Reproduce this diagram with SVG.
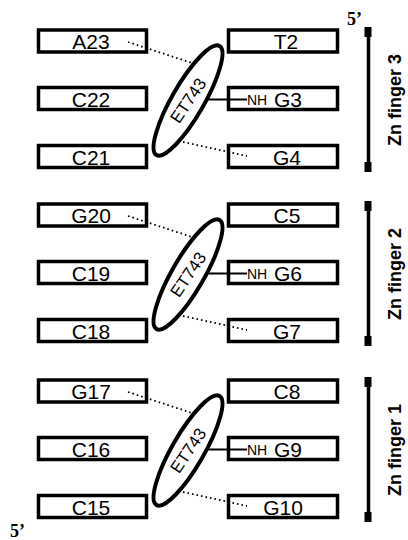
<svg xmlns="http://www.w3.org/2000/svg" width="408" height="540" viewBox="0 0 408 540">
<style>
.box{fill:#fff;stroke:#000;stroke-width:3.5}
.bt{font-family:"Liberation Sans",Arial,sans-serif;font-size:21px;fill:#000;text-anchor:middle}
.nh{font-family:"Liberation Sans",Arial,sans-serif;font-size:14px;fill:#000}
.ell{fill:#fff;stroke:#000;stroke-width:4}
.et{font-family:"Liberation Sans",Arial,sans-serif;font-size:17px;fill:#000;text-anchor:middle}
.dot{stroke:#000;stroke-width:1.8;stroke-dasharray:1.6 3;fill:none}
.sol{stroke:#000;stroke-width:1.8;fill:none}
.br{stroke:#000;stroke-width:3.5;fill:none}
.zn{font-family:"Liberation Sans",Arial,sans-serif;font-size:18px;font-weight:bold;fill:#000;text-anchor:middle}
.p{font-family:"Liberation Serif","Times New Roman",serif;font-size:18px;font-weight:bold;fill:#000}
</style>
<defs>
<g id="bracket">
<line class="br" x1="368.5" y1="27" x2="368.5" y2="172"/>
<rect x="364.5" y="27" width="7" height="10" fill="#000"/>
<rect x="364.5" y="162" width="7" height="10" fill="#000"/>
</g>
</defs>

<!-- Panel: Zn finger 3 -->
<g id="finger3">
<g id="A23"><rect class="box" x="38.5" y="30" width="108" height="22"/><text class="bt" x="91" y="48.5">A23</text></g>
<g id="C22"><rect class="box" x="38.5" y="87.5" width="108" height="22"/><text class="bt" x="91" y="106.5">C22</text></g>
<g id="C21"><rect class="box" x="38.5" y="145.5" width="108" height="22"/><text class="bt" x="91" y="164.5">C21</text></g>
<g id="T2"><rect class="box" x="228.5" y="30" width="109" height="22"/><text class="bt" x="286" y="48.5">T2</text></g>
<g id="G3"><rect class="box" x="228.5" y="87.5" width="109" height="22"/><text class="nh" x="247" y="104.5">NH</text><text class="bt" x="288" y="106.5">G3</text></g>
<g id="G4"><rect class="box" x="228.5" y="145.5" width="109" height="22"/><text class="bt" x="287" y="164.5">G4</text></g>
<g id="connectors3">
<line class="dot" x1="128" y1="42" x2="192" y2="63"/>
<line class="dot" x1="183" y1="142" x2="247" y2="156"/>
<line class="sol" x1="200" y1="99.5" x2="247" y2="99.5"/>
</g>
<g id="ET743_3"><ellipse class="ell" cx="188" cy="100.5" rx="63" ry="16" transform="rotate(-60 188 100.5)"/><text class="et" x="188" y="106.5" transform="rotate(-56 188 100.5)">ET743</text></g>
<use href="#bracket"/>
<text class="zn" transform="translate(401,100) rotate(-90)">Zn finger 3</text>
</g>

<!-- Panel: Zn finger 2 -->
<g id="finger2" transform="translate(0,174)">
<g id="G20"><rect class="box" x="38.5" y="30" width="108" height="22"/><text class="bt" x="91" y="48.5">G20</text></g>
<g id="C19"><rect class="box" x="38.5" y="87.5" width="108" height="22"/><text class="bt" x="91" y="106.5">C19</text></g>
<g id="C18"><rect class="box" x="38.5" y="145.5" width="108" height="22"/><text class="bt" x="91" y="164.5">C18</text></g>
<g id="C5"><rect class="box" x="228.5" y="30" width="109" height="22"/><text class="bt" x="287" y="48.5">C5</text></g>
<g id="G6"><rect class="box" x="228.5" y="87.5" width="109" height="22"/><text class="nh" x="247" y="104.5">NH</text><text class="bt" x="288" y="106.5">G6</text></g>
<g id="G7"><rect class="box" x="228.5" y="145.5" width="109" height="22"/><text class="bt" x="287" y="164.5">G7</text></g>
<g id="connectors2">
<line class="dot" x1="128" y1="42" x2="192" y2="63"/>
<line class="dot" x1="183" y1="142" x2="247" y2="156"/>
<line class="sol" x1="200" y1="99.5" x2="247" y2="99.5"/>
</g>
<g id="ET743_2"><ellipse class="ell" cx="188" cy="100.5" rx="63" ry="16" transform="rotate(-60 188 100.5)"/><text class="et" x="188" y="106.5" transform="rotate(-56 188 100.5)">ET743</text></g>
<use href="#bracket"/>
<text class="zn" transform="translate(401,100) rotate(-90)">Zn finger 2</text>
</g>

<!-- Panel: Zn finger 1 -->
<g id="finger1" transform="translate(0,350)">
<g id="G17"><rect class="box" x="38.5" y="30" width="108" height="22"/><text class="bt" x="91" y="48.5">G17</text></g>
<g id="C16"><rect class="box" x="38.5" y="87.5" width="108" height="22"/><text class="bt" x="91" y="106.5">C16</text></g>
<g id="C15"><rect class="box" x="38.5" y="145.5" width="108" height="22"/><text class="bt" x="91" y="164.5">C15</text></g>
<g id="C8"><rect class="box" x="228.5" y="30" width="109" height="22"/><text class="bt" x="287" y="48.5">C8</text></g>
<g id="G9"><rect class="box" x="228.5" y="87.5" width="109" height="22"/><text class="nh" x="247" y="104.5">NH</text><text class="bt" x="288" y="106.5">G9</text></g>
<g id="G10"><rect class="box" x="228.5" y="145.5" width="109" height="22"/><text class="bt" x="283" y="164.5">G10</text></g>
<g id="connectors1">
<line class="dot" x1="128" y1="42" x2="192" y2="63"/>
<line class="dot" x1="183" y1="142" x2="247" y2="156"/>
<line class="sol" x1="200" y1="99.5" x2="247" y2="99.5"/>
</g>
<g id="ET743_1"><ellipse class="ell" cx="188" cy="100.5" rx="63" ry="16" transform="rotate(-60 188 100.5)"/><text class="et" x="188" y="106.5" transform="rotate(-56 188 100.5)">ET743</text></g>
<use href="#bracket"/>
<text class="zn" transform="translate(401,100) rotate(-90)">Zn finger 1</text>
</g>

<text class="p" x="347" y="25">5’</text>
<text class="p" x="10" y="537">5’</text>
</svg>
